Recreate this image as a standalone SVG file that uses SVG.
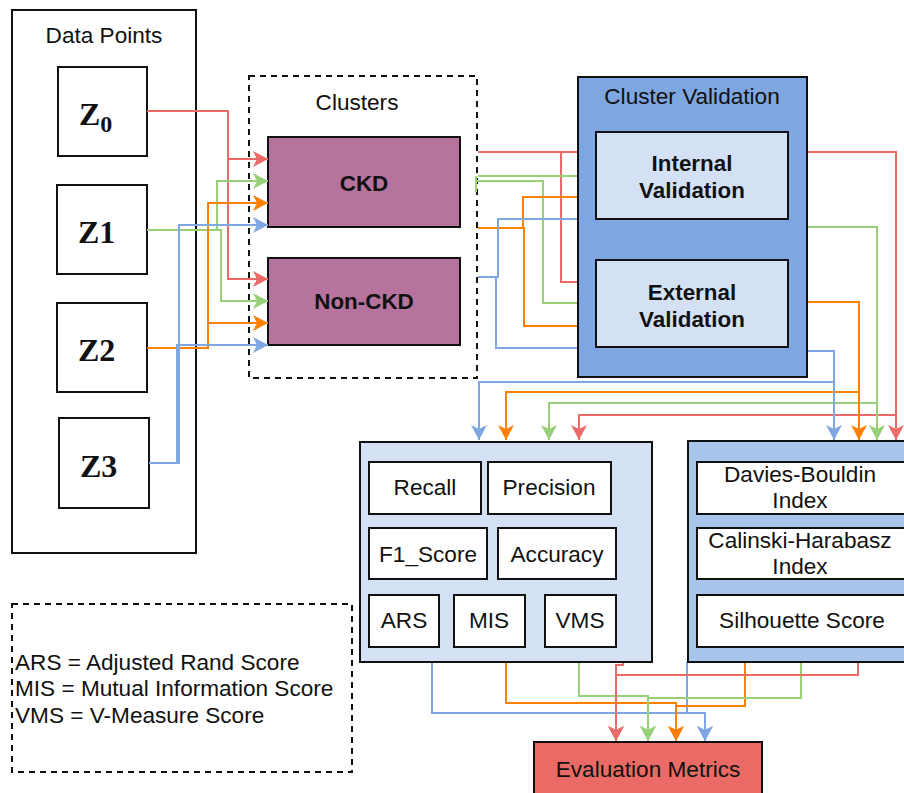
<svg xmlns="http://www.w3.org/2000/svg" width="904" height="793" viewBox="0 0 904 793">
<style>
text{font-family:"Liberation Sans",Arial,sans-serif;font-size:22.6px;fill:#111;text-anchor:middle}
.b{font-weight:bold;font-size:22.4px}
.z{font-family:"Liberation Serif","Times New Roman",serif;font-weight:bold;font-size:32px;text-anchor:start}
.box{stroke:#111;stroke-width:2}
.dash{fill:none;stroke:#111;stroke-width:2;stroke-dasharray:6 5}
.c{fill:none;stroke-width:2}
.r{stroke:#EA6B66}.g{stroke:#97D077}.o{stroke:#FF8000}.bl{stroke:#7EA6E0}
</style>
<defs>
<marker id="ar" markerUnits="userSpaceOnUse" markerWidth="16" markerHeight="16" refX="15" refY="8" orient="auto"><path d="M0,0 L15,8 L0,16 L4,8 z" fill="#EA6B66"/></marker>
<marker id="ag" markerUnits="userSpaceOnUse" markerWidth="16" markerHeight="16" refX="15" refY="8" orient="auto"><path d="M0,0 L15,8 L0,16 L4,8 z" fill="#97D077"/></marker>
<marker id="ao" markerUnits="userSpaceOnUse" markerWidth="16" markerHeight="16" refX="15" refY="8" orient="auto"><path d="M0,0 L15,8 L0,16 L4,8 z" fill="#FF8000"/></marker>
<marker id="ab" markerUnits="userSpaceOnUse" markerWidth="16" markerHeight="16" refX="15" refY="8" orient="auto"><path d="M0,0 L15,8 L0,16 L4,8 z" fill="#7EA6E0"/></marker>
</defs>
<rect width="904" height="793" fill="#fff"/>

<g id="data-points">
<rect x="12" y="10" width="184" height="543" fill="#fff" class="box"/>
<text x="104" y="43">Data Points</text>
</g>
<g id="z0"><rect x="58" y="67" width="89" height="89" fill="#fff" class="box"/><text class="z" x="79" y="125">Z<tspan font-size="24" dy="7">0</tspan></text></g>
<g id="z1"><rect x="57" y="185" width="90" height="89" fill="#fff" class="box"/><text class="z" x="78" y="243">Z1</text></g>
<g id="z2"><rect x="57" y="303" width="90" height="89" fill="#fff" class="box"/><text class="z" x="78" y="361">Z2</text></g>
<g id="z3"><rect x="59" y="418" width="90" height="90" fill="#fff" class="box"/><text class="z" x="80" y="477">Z3</text></g>

<g id="clusters">
<rect x="249" y="76" width="228" height="302" class="dash"/>
<text x="357" y="110">Clusters</text>
</g>
<g id="ckd"><rect x="268" y="137" width="192" height="90" fill="#B5739D" class="box"/><text class="b" x="364" y="191">CKD</text></g>
<g id="non-ckd"><rect x="268" y="258" width="192" height="87" fill="#B5739D" class="box"/><text class="b" x="364" y="309">Non-CKD</text></g>

<g id="connectors">
<path class="c r" d="M147,111 H228 V159 H268" marker-end="url(#ar)"/>
<path class="c r" d="M147,111 H228 V279 H268" marker-end="url(#ar)"/>
<path class="c g" d="M147,230 H217 V181 H268" marker-end="url(#ag)"/>
<path class="c g" d="M147,230 H221 V301 H268" marker-end="url(#ag)"/>
<path class="c o" d="M147,348 H208 V203 H268" marker-end="url(#ao)"/>
<path class="c o" d="M147,348 H208 V323 H268" marker-end="url(#ao)"/>
<path class="c bl" d="M149,463 H179 V225 H268" marker-end="url(#ab)"/>
<path class="c bl" d="M149,463 H177 V345 H268" marker-end="url(#ab)"/>

<path class="c r" d="M478,152 H596" marker-end="url(#ar)"/>
<path class="c r" d="M478,152 H561 V282 H596" marker-end="url(#ar)"/>
<path class="c g" d="M478,176 H596" marker-end="url(#ag)"/>
<path class="c g" d="M476,176 V192 M476,181 H543 V303 H596" marker-end="url(#ag)"/>
<path class="c o" d="M478,228 H523 V197 H596" marker-end="url(#ao)"/>
<path class="c o" d="M478,228 H524 V326 H596" marker-end="url(#ao)"/>
<path class="c bl" d="M478,277 H498 V219 H578"/>
<path class="c bl" d="M478,277 H496 V348 H578"/>

<path class="c r" d="M807,152 H896 V440" marker-end="url(#ar)"/>
<path class="c r" d="M807,152 H896 V415 H579 V440" marker-end="url(#ar)"/>
<path class="c g" d="M807,227 H877 V440" marker-end="url(#ag)"/>
<path class="c g" d="M807,227 H877 V403 H549 V440" marker-end="url(#ag)"/>
<path class="c o" d="M807,302 H859 V440" marker-end="url(#ao)"/>
<path class="c o" d="M807,302 H859 V392 H506 V440" marker-end="url(#ao)"/>
<path class="c bl" d="M807,351 H834 V440" marker-end="url(#ab)"/>
<path class="c bl" d="M807,351 H834 V382 H479 V440" marker-end="url(#ab)"/>

<path class="c bl" d="M432,662 V713 H705 V741" marker-end="url(#ab)"/>
<path class="c bl" d="M687,662 V713 H705 V741" marker-end="url(#ab)"/>
<path class="c o" d="M506,662 V703 H676 V741" marker-end="url(#ao)"/>
<path class="c o" d="M745,662 V706 H676 V741" marker-end="url(#ao)"/>
<path class="c g" d="M579,662 V696 H648 V741" marker-end="url(#ag)"/>
<path class="c g" d="M801,662 V698 H648 V741" marker-end="url(#ag)"/>
<path class="c r" d="M623,662 V665 H616 V741" marker-end="url(#ar)"/>
<path class="c r" d="M858,662 V675 H616 V741" marker-end="url(#ar)"/>
</g>

<g id="cluster-validation">
<rect x="578" y="77" width="229" height="300" fill="#7EA6E0" class="box"/>
<text x="692" y="104">Cluster Validation</text>
</g>
<g id="internal-validation"><rect x="596" y="132" width="192" height="87" fill="#D4E1F5" class="box"/><text class="b" x="692" y="171">Internal</text><text class="b" x="692" y="198">Validation</text></g>
<g id="external-validation"><rect x="596" y="260" width="192" height="87" fill="#D4E1F5" class="box"/><text class="b" x="692" y="300">External</text><text class="b" x="692" y="327">Validation</text></g>

<g id="external-metrics">
<rect x="360" y="442" width="292" height="220" fill="#D4E1F5" class="box"/>
</g>
<g id="recall"><rect x="369" y="462" width="112" height="52" fill="#fff" class="box"/><text x="425" y="495">Recall</text></g>
<g id="precision"><rect x="488" y="462" width="123" height="52" fill="#fff" class="box"/><text x="549" y="495">Precision</text></g>
<g id="f1"><rect x="369" y="528" width="118" height="51" fill="#fff" class="box"/><text x="428" y="562">F1_Score</text></g>
<g id="accuracy"><rect x="498" y="528" width="118" height="51" fill="#fff" class="box"/><text x="557" y="562">Accuracy</text></g>
<g id="ars"><rect x="369" y="595" width="70" height="52" fill="#fff" class="box"/><text x="404" y="628">ARS</text></g>
<g id="mis"><rect x="454" y="595" width="71" height="52" fill="#fff" class="box"/><text x="489" y="628">MIS</text></g>
<g id="vms"><rect x="545" y="595" width="71" height="52" fill="#fff" class="box"/><text x="580" y="628">VMS</text></g>

<g id="internal-metrics">
<rect x="688" y="441" width="230" height="221" fill="#A9C4EB" class="box"/>
</g>
<g id="davies"><rect x="697" y="462" width="212" height="52" fill="#fff" class="box"/><text x="800" y="482">Davies-Bouldin</text><text x="800" y="508">Index</text></g>
<g id="calinski"><rect x="697" y="528" width="212" height="51" fill="#fff" class="box"/><text x="800" y="548">Calinski-Harabasz</text><text x="800" y="574">Index</text></g>
<g id="silhouette"><rect x="697" y="595" width="212" height="52" fill="#fff" class="box"/><text x="802" y="628">Silhouette Score</text></g>

<g id="legend">
<rect x="12" y="604" width="340" height="168" class="dash"/>
<text x="15" y="670" style="text-anchor:start">ARS = Adjusted Rand Score</text>
<text x="15" y="696" style="text-anchor:start">MIS = Mutual Information Score</text>
<text x="15" y="723" style="text-anchor:start">VMS = V-Measure Score</text>
</g>

<g id="evaluation-metrics">
<rect x="534" y="742" width="228" height="60" fill="#EA6B66" class="box"/>
<text x="648" y="777">Evaluation Metrics</text>
</g>
</svg>
